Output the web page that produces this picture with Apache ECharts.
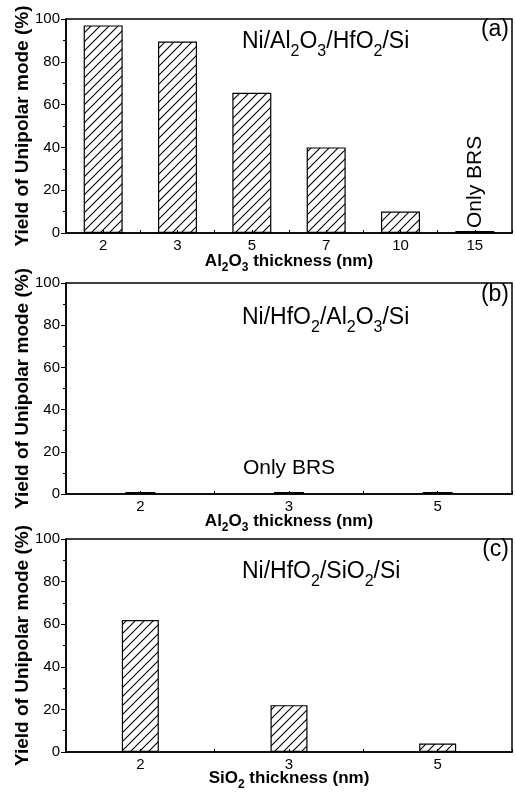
<!DOCTYPE html>
<html>
<head>
<meta charset="utf-8">
<script src="https://cdn.jsdelivr.net/npm/echarts@6/dist/echarts.min.js"></script>
<style>html,body{margin:0;padding:0;background:#fff;}#c{width:516px;height:792px;}</style>
</head>
<body>
<div id="c"></div>
<script>
// ---- data ----
const catsA = ['2', '3', '5', '7', '10', '15'];
const valsA = [97, 89.5, 65.5, 40, 10, 0.8];
const catsB = ['2', '3', '5'];
const valsB = [0.6, 0.6, 0.6];
const catsC = ['2', '3', '5'];
const valsC = [62, 22, 4];
const yMin = 0, yMax = 100, yStep = 20;
const noteA = 'Only BRS';
const noteB = 'Only BRS';

const FF = 'Liberation Sans, Arial, Helvetica, sans-serif';

function hatch() {
  const c = document.createElement('canvas');
  c.width = 9; c.height = 9;
  const g = c.getContext('2d');
  g.strokeStyle = '#000';
  g.lineWidth = 1.1;
  g.beginPath();
  g.moveTo(0, 9); g.lineTo(9, 0);
  g.moveTo(-2, 2); g.lineTo(2, -2);
  g.moveTo(7, 11); g.lineTo(11, 7);
  g.stroke();
  return c;
}
const pat = { image: hatch(), repeat: 'repeat' };

const grids = [
  { left: 66, top: 19, width: 446, height: 214 },
  { left: 66, top: 283, width: 446, height: 211 },
  { left: 66, top: 539, width: 446, height: 213 }
].map(g => Object.assign(g, { show: true, borderColor: '#000', borderWidth: 1.5, backgroundColor: 'transparent' }));

const subRich = {
  n: { fontFamily: FF, fontSize: 17, fontWeight: 'bold', color: '#000', lineHeight: 26, verticalAlign: 'middle' },
  s: { fontFamily: FF, fontSize: 12, fontWeight: 'bold', color: '#000', lineHeight: 12, verticalAlign: 'bottom' }
};
const xNames = [
  '{n|Al}{s|2}{n|O}{s|3}{n| thickness (nm)}',
  '{n|Al}{s|2}{n|O}{s|3}{n| thickness (nm)}',
  '{n|SiO}{s|2}{n| thickness (nm)}'
];
const cats = [catsA, catsB, catsC];
const gaps = [15, 14, 13];

const xAxes = [];
cats.forEach((cs, i) => {
  xAxes.push({
    type: 'category', gridIndex: i, data: cs, position: 'bottom',
    name: xNames[i], nameLocation: 'middle', nameGap: gaps[i], nameMoveOverlap: false,
    nameTextStyle: { rich: subRich },
    axisLine: { show: true, lineStyle: { color: '#000', width: 1.5 } },
    axisTick: { show: true, inside: true, length: 3, alignWithLabel: false, lineStyle: { color: '#000', width: 1 } },
    axisLabel: { show: true, color: '#000', fontSize: 15, fontFamily: FF, margin: 5 },
    splitLine: { show: false }
  });
});
cats.forEach((cs, i) => {
  xAxes.push({
    type: 'category', gridIndex: i, data: cs, position: 'bottom',
    axisLine: { show: false },
    axisTick: { show: true, inside: true, length: 3, alignWithLabel: true, lineStyle: { color: '#000', width: 1 } },
    axisLabel: { show: false },
    splitLine: { show: false }
  });
});

const yAxes = [0, 1, 2].map(i => ({
  type: 'value', gridIndex: i, min: yMin, max: yMax, interval: yStep,
  name: 'Yield of Unipolar mode (%)', nameLocation: 'middle', nameGap: 34, nameMoveOverlap: false,
  nameTextStyle: { fontFamily: FF, fontSize: 19, fontWeight: 'bold', color: '#000' },
  axisLine: { show: true, lineStyle: { color: '#000', width: 1.5 } },
  axisTick: { show: true, inside: false, length: 5, lineStyle: { color: '#000', width: 1 } },
  minorTick: { show: true, splitNumber: 2, length: 3, lineStyle: { color: '#000', width: 1 } },
  axisLabel: { color: '#000', fontSize: 15, fontFamily: FF, margin: 6 },
  splitLine: { show: false }
}));

const barStyle = { color: pat, borderColor: '#000', borderWidth: 1.2 };
const flatStyle = { color: '#000', borderColor: '#000', borderWidth: 1.4 };

const dataA = valsA.map((v, k) => k === valsA.length - 1 ? {
  value: v,
  itemStyle: flatStyle,
  label: { show: true, formatter: noteA, position: 'top', rotate: 90, align: 'left', verticalAlign: 'middle',
           distance: 3, fontSize: 21, fontFamily: FF, color: '#000' }
} : v);
const dataB = valsB.map((v, k) => k === 1 ? {
  value: v,
  label: { show: true, formatter: noteB, position: 'top', distance: 13, fontSize: 21, fontFamily: FF, color: '#000' }
} : v);

const series = [
  { type: 'bar', xAxisIndex: 0, yAxisIndex: 0, data: dataA, barWidth: 39, barMinHeight: 2, itemStyle: barStyle },
  { type: 'bar', xAxisIndex: 1, yAxisIndex: 1, data: dataB, barWidth: 30, barMinHeight: 2, itemStyle: flatStyle },
  { type: 'bar', xAxisIndex: 2, yAxisIndex: 2, data: valsC, barWidth: 37, itemStyle: barStyle }
];

const fRich = {
  m: { fontFamily: FF, fontSize: 23, lineHeight: 36, fill: '#000', verticalAlign: 'middle' },
  s: { fontFamily: FF, fontSize: 16, lineHeight: 16, fill: '#000', verticalAlign: 'bottom' }
};
function formula(text, y) {
  return { type: 'text', x: 242, y: y, silent: true,
    style: { text: text, rich: fRich, fill: '#000', align: 'left', verticalAlign: 'middle', font: '23px ' + FF } };
}
function panel(text, y) {
  return { type: 'text', x: 509, y: y, silent: true,
    style: { text: text, fill: '#000', align: 'right', verticalAlign: 'middle', fontSize: 23, fontFamily: FF } };
}

const chart = echarts.init(document.getElementById('c'), null, { renderer: 'canvas' });
chart.setOption({
  animation: false,
  backgroundColor: '#fff',
  grid: grids,
  xAxis: xAxes,
  yAxis: yAxes,
  series: series,
  graphic: [
    formula('{m|Ni/Al}{s|2}{m|O}{s|3}{m|/HfO}{s|2}{m|/Si}', 42),
    formula('{m|Ni/HfO}{s|2}{m|/Al}{s|2}{m|O}{s|3}{m|/Si}', 318),
    formula('{m|Ni/HfO}{s|2}{m|/SiO}{s|2}{m|/Si}', 572),
    panel('(a)', 30),
    panel('(b)', 295),
    panel('(c)', 550)
  ]
});
</script>
</body>
</html>
